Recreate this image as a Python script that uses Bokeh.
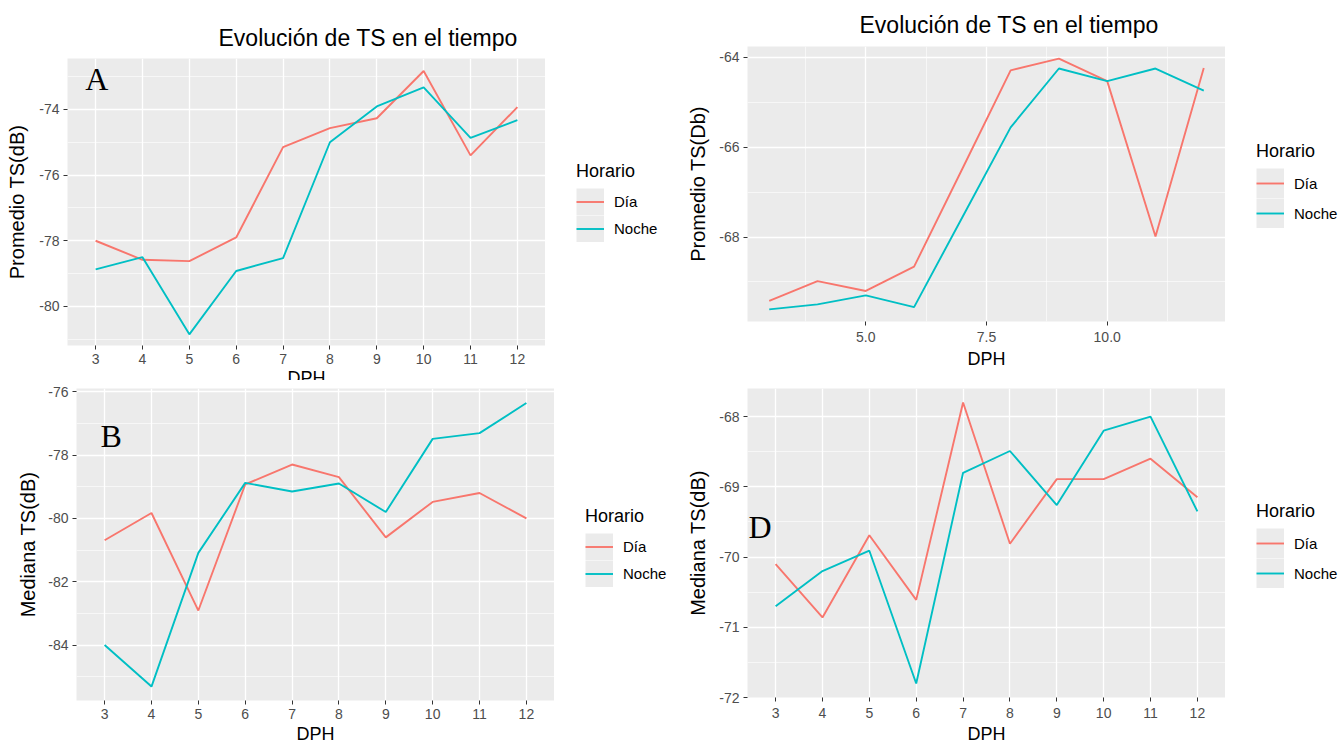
from bokeh.plotting import figure
from bokeh.models import Range1d, FixedTicker, Legend, LegendItem, Label
from bokeh.layouts import row, column
from bokeh.embed import file_html
from bokeh.resources import INLINE

# ---------------- data ----------------
dph = [3, 4, 5, 6, 7, 8, 9, 10, 11, 12]

# A: Promedio TS(dB)
a_dia = [-78.0, -78.58, -78.62, -77.9, -75.15, -74.57, -74.27, -72.83, -75.4, -73.93]
a_noche = [-78.87, -78.5, -80.85, -78.92, -78.53, -75.0, -73.91, -73.33, -74.87, -74.33]

# C: Promedio TS(Db)
c_dia = [-69.42, -68.98, -69.2, -68.66, -66.48, -64.29, -64.03, -64.53, -67.99, -64.24]
c_noche = [-69.61, -69.5, -69.3, -69.56, -67.56, -65.56, -64.25, -64.53, -64.25, -64.74]

# B: Mediana TS(dB)
b_dia = [-80.69, -79.83, -82.91, -78.93, -78.3, -78.7, -80.6, -79.48, -79.2, -80.0]
b_noche = [-84.0, -85.31, -81.09, -78.88, -79.15, -78.9, -79.8, -77.49, -77.31, -76.36]

# D: Mediana TS(dB)
d_dia = [-70.10, -70.86, -69.69, -70.61, -67.80, -69.81, -68.89, -68.89, -68.6, -69.15]
d_noche = [-70.70, -70.2, -69.91, -71.8, -68.8, -68.49, -69.26, -68.2, -68.0, -69.35]

series_names = ["Día", "Noche"]
title_text = "Evolución de TS en el tiempo"

DIA_C = "#F8766D"
NOCHE_C = "#00BFC4"
PANEL_BG = "#EBEBEB"
SANS = "Liberation Sans"
SERIF = "Liberation Serif"


def panel(w, h, L, T, B, xr, yr, xticks, xminor, yticks, yminor, dia, noche,
          ylabel, xlabel=None, title=None, title_offset=0, title_standoff=12, xfmt=None,
          letter=None, ylab_standoff=10, xlab_standoff=2, xtick_standoff=4):
    p = figure(width=w, height=h, x_range=Range1d(*xr), y_range=Range1d(*yr),
               output_backend="svg", toolbar_location=None,
               min_border_left=L, min_border_right=0,
               min_border_top=T, min_border_bottom=h - B,
               title=title)
    p.background_fill_color = PANEL_BG
    p.border_fill_color = "white"
    p.outline_line_color = None
    if title:
        p.title.align = "left"
        p.title.offset = title_offset
        p.title.text_font = SANS
        p.title.text_font_size = "23px"
        p.title.text_font_style = "normal"
        p.title.text_color = "black"
        p.title.standoff = title_standoff

    p.xaxis.ticker = FixedTicker(ticks=xticks, minor_ticks=xminor)
    p.yaxis.ticker = FixedTicker(ticks=yticks, minor_ticks=yminor)
    # plain hyphen-minus in tick labels, as in the reference
    p.yaxis.major_label_overrides = {t: "%g" % t for t in yticks}
    if xfmt:
        p.xaxis.major_label_overrides = xfmt
    for ax in (p.xaxis, p.yaxis):
        ax.axis_line_color = None
        ax.major_tick_out = 4
        ax.major_tick_in = 0
        ax.major_tick_line_color = "#333333"
        ax.minor_tick_line_color = None
        ax.major_label_text_font = SANS
        ax.major_label_text_font_size = "14px"
        ax.major_label_text_color = "#4D4D4D"
        ax.major_label_standoff = 4
        ax.axis_label_text_font = SANS
        ax.axis_label_text_font_style = "normal"
        ax.axis_label_text_color = "black"
    p.xaxis.major_label_standoff = xtick_standoff
    p.xaxis.axis_label_text_font_size = "18px"
    p.yaxis.axis_label_text_font_size = "20px"
    p.yaxis.axis_label = ylabel
    p.yaxis.axis_label_standoff = ylab_standoff
    if xlabel:
        p.xaxis.axis_label = xlabel
        p.xaxis.axis_label_standoff = xlab_standoff

    for g in (p.xgrid, p.ygrid):
        g.grid_line_color = "white"
        g.grid_line_width = 1.3
        g.minor_grid_line_color = "white"
        g.minor_grid_line_width = 0.6

    p.line(dph, dia, line_color=DIA_C, line_width=1.9)
    p.line(dph, noche, line_color=NOCHE_C, line_width=1.9)

    if letter:
        txt, lx, ly = letter
        p.add_layout(Label(x=lx, y=ly, text=txt, text_baseline="top", text_align="left",
                           text_font=SERIF, text_font_size="32px", text_color="black"))
    return p


def legend_fig(w, h, key_h, loc_y, dia, noche, gap=31):
    """ggplot-like legend ("Horario") drawn in its own small canvas right of a panel.
    The series are plotted outside this canvas's visible range; only their legend keys show."""
    q = figure(width=w, height=h, x_range=Range1d(0, 1), y_range=Range1d(0, 1),
               output_backend="svg", toolbar_location=None,
               x_axis_location=None, y_axis_location=None,
               min_border_left=0, min_border_right=0, min_border_top=0, min_border_bottom=0)
    q.xgrid.visible = False
    q.ygrid.visible = False
    q.outline_line_color = None
    q.background_fill_color = "white"
    q.border_fill_color = "white"
    key_bg = q.line(dph, dia, line_color=PANEL_BG, line_width=key_h)
    r1 = q.line(dph, dia, line_color=DIA_C, line_width=1.9)
    r2 = q.line(dph, noche, line_color=NOCHE_C, line_width=1.9)
    leg = Legend(items=[LegendItem(label=series_names[0], renderers=[key_bg, r1]),
                        LegendItem(label=series_names[1], renderers=[key_bg, r2])],
                 location=(gap, loc_y), title="Horario",
                 glyph_width=28, glyph_height=key_h, label_standoff=10,
                 spacing=0, padding=0, margin=0, border_line_color=None,
                 background_fill_alpha=0, title_standoff=6,
                 title_text_font=SANS, title_text_font_size="18px",
                 title_text_font_style="normal", title_text_color="black",
                 label_text_font=SANS, label_text_font_size="15px",
                 label_text_color="black", label_height=key_h)
    q.add_layout(leg)
    return q


# Panel A (top-left); its x title is partly hidden under panel B, as in the reference
pa = panel(545, 392, 67, 58, 345, (2.4, 12.6), (-81.19, -72.45),
           dph, [], [-80, -78, -76, -74], [-81, -79, -77, -75, -73],
           a_dia, a_noche, "Promedio TS(dB)", xlabel="DPH", title=title_text,
           title_offset=151, title_standoff=16, letter=("A", 2.78, -72.54),
           ylab_standoff=8, xlab_standoff=1)
la = legend_fig(125, 392, 27, 392 - 242, a_dia, a_noche)

# Panel C (top-right)
pc = panel(555, 380, 77, 45, 321, (2.55, 12.45), (-69.88, -63.76),
           [5, 7.5, 10], [3.75, 6.25, 8.75, 11.25], [-68, -66, -64], [-69, -67, -65],
           c_dia, c_noche, "Promedio TS(Db)", xlabel="DPH", title=title_text,
           title_offset=112, title_standoff=18, xfmt={5: "5.0", 7.5: "7.5", 10: "10.0"},
           ylab_standoff=7, xlab_standoff=4, xtick_standoff=6)
lc = legend_fig(117, 380, 30, 380 - 228, c_dia, c_noche)

# Panel B (bottom-left)
pb = panel(554, 366, 76, 8, 325, (2.4, 12.6), (-85.75, -75.9),
           dph, [], [-84, -82, -80, -78, -76], [-85, -83, -81, -79, -77],
           b_dia, b_noche, "Mediana TS(dB)", xlabel="DPH",
           letter=("B", 2.91, -76.83), ylab_standoff=6)
lb = legend_fig(116, 366, 27, 366 - 207, b_dia, b_noche)

# Panel D (bottom-right)
pd_ = panel(555, 366, 77, 8, 317, (2.4, 12.6), (-72.0, -67.6),
            dph, [], [-72, -71, -70, -69, -68], [-71.5, -70.5, -69.5, -68.5, -67.5],
            d_dia, d_noche, "Mediana TS(dB)", xlabel="DPH",
            letter=("D", 2.42, -69.31), ylab_standoff=7, xlab_standoff=3, xtick_standoff=6)
ld = legend_fig(117, 366, 30, 366 - 208, d_dia, d_noche)

top = row(column(pa), column(la), column(pc), column(lc))
bottom = row(column(pb), column(lb), column(pd_), column(ld))
bottom.margin = (-12, 0, 0, 0)
bottom.styles = {"position": "relative", "z-index": "5", "background-color": "white"}
layout = column(top, bottom)
open("out.html", "w").write(file_html(layout, INLINE))
